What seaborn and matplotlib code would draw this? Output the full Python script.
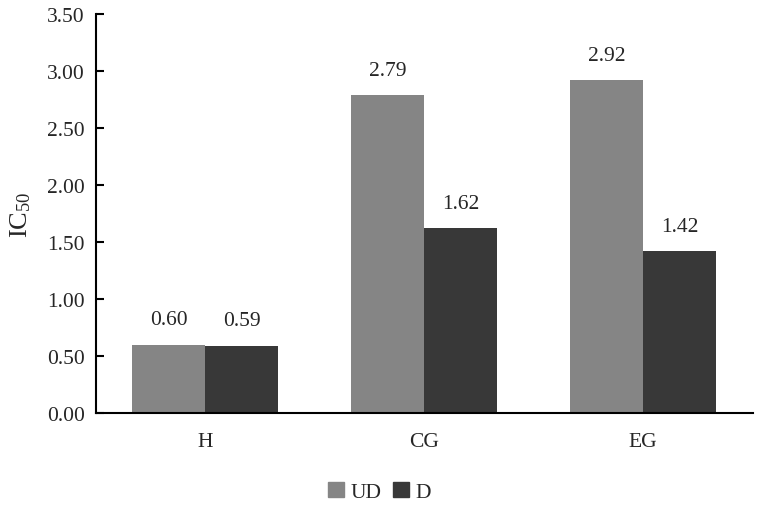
import pandas as pd
import matplotlib
matplotlib.use('Agg')
import matplotlib.pyplot as plt
import seaborn as sns

# data
groups = ['H', 'CG', 'EG']
ud_values = [0.60, 2.79, 2.92]
d_values = [0.59, 1.62, 1.42]
series_names = ['UD', 'D']
yticks = [0.0, 0.5, 1.0, 1.5, 2.0, 2.5, 3.0, 3.5]

df = pd.DataFrame({
    'group': groups * 2,
    'series': [series_names[0]] * 3 + [series_names[1]] * 3,
    'IC50': ud_values + d_values,
})

sns.set_style('white')
plt.rcParams['font.family'] = ['Liberation Serif', 'DejaVu Serif']
plt.rcParams['mathtext.fontset'] = 'custom'
plt.rcParams['mathtext.rm'] = 'Liberation Serif'
plt.rcParams['mathtext.it'] = 'Liberation Serif'
fs = 15.5

fig = plt.figure(figsize=(7.59, 5.06), dpi=100)
ax = fig.add_axes([0.1265, 0.182, 0.865, 0.788])

palette = {'UD': '#858585', 'D': '#383838'}
sns.barplot(data=df, x='group', y='IC50', hue='series', order=groups,
            hue_order=series_names, palette=palette, width=0.667,
            saturation=1, linewidth=0, ax=ax, legend=False)

# value labels above bars
for container in ax.containers:
    ax.bar_label(container, fmt='%.2f', padding=11, fontsize=fs)

ax.set_xlim(-0.5, 2.5)
ax.set_ylim(0, 3.5)
ax.set_yticks(yticks)
ax.set_yticklabels([f'{t:.2f}' for t in yticks], fontsize=fs)
ax.tick_params(axis='y', left=True, direction='in', length=6, width=1.5,
               color='black', pad=8)
ax.tick_params(axis='x', bottom=False, length=0, labelsize=fs, pad=14)
ax.set_xlabel('')
ax.set_ylabel(r'IC$_{\mathrm{50}}$', fontsize=19, labelpad=10)

for side in ['top', 'right']:
    ax.spines[side].set_visible(False)
for side in ['left', 'bottom']:
    ax.spines[side].set_color('black')
    ax.spines[side].set_linewidth(1.5)

handles = [plt.Rectangle((0, 0), 1, 1, color=palette[s]) for s in series_names]
fig.legend(handles, series_names, loc='center', bbox_to_anchor=(0.5, 0.026),
           ncol=2, frameon=False, fontsize=fs, handlelength=0.75,
           handleheight=0.75, handletextpad=0.3, columnspacing=0.5)

fig.savefig('out.png', dpi=100)
